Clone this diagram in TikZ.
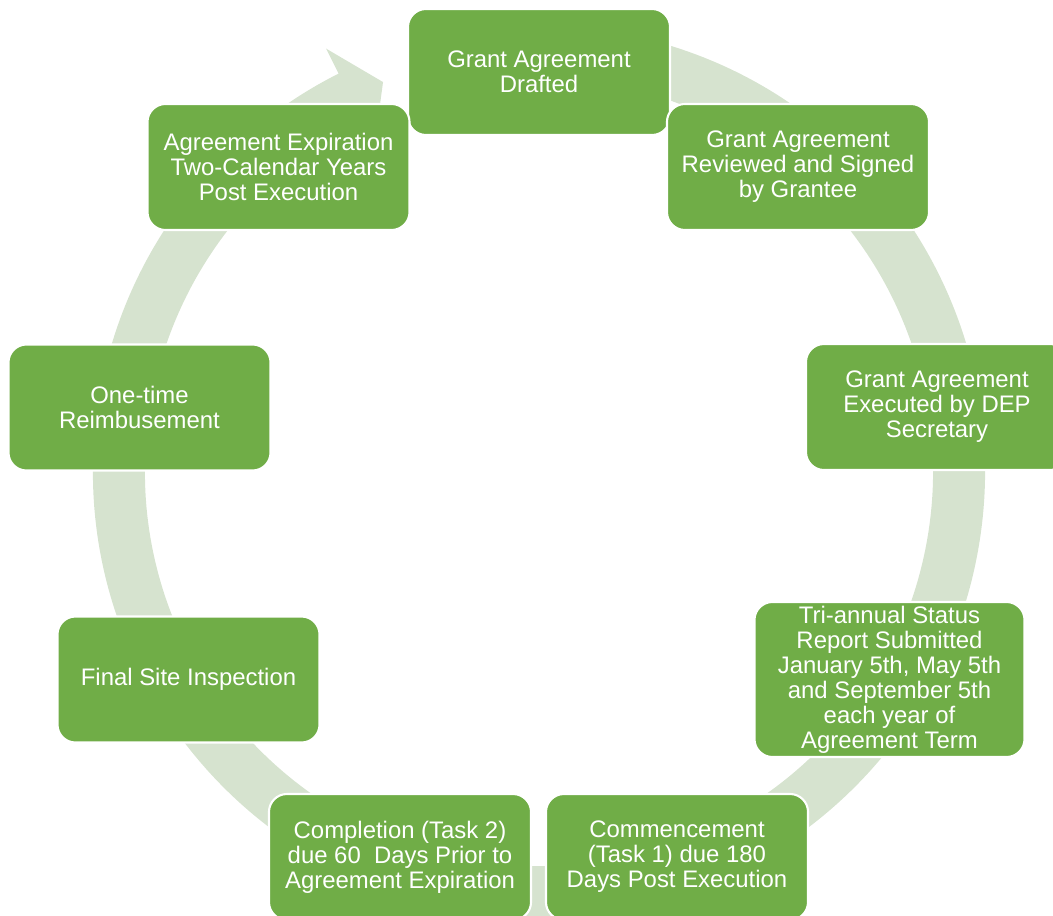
\documentclass[tikz,border=0pt]{standalone}
\usepackage{fontspec}
\setmainfont{Liberation Sans}
\usepackage{tikz}
\usetikzlibrary{calc}

\definecolor{boxgreen}{RGB}{112,173,71}
\definecolor{ringgreen}{RGB}{214,227,207}

\tikzset{
  stage/.style={draw=white, line width=1.5pt, fill=boxgreen, rounded corners=0.45cm,
    minimum width=6.55cm, minimum height=3.15cm, align=center, text=white,
    font=\fontsize{17}{17.8}\selectfont, inner sep=2pt},
}

\begin{document}
\begin{tikzpicture}[x=0.025cm, y=0.025cm]
\useasboundingbox (0,0) rectangle (1053,-915);

% cycle arrow
\begin{scope}[shift={(539,-472)}]
\fill [ringgreen] (80:446) arc[start angle=80, end angle=-243.3, radius=446]
  -- (-243.3:474) -- (-248.2:420) -- (-243.3:366) -- (-243.3:394)
  arc[start angle=-243.3, end angle=80, radius=394] -- cycle;
\end{scope}

% stages
\node [stage] (drafted) at (539,-72) {Grant Agreement\\Drafted};
\node [stage] (signed) at (798,-167) {Grant Agreement\\Reviewed and Signed\\by Grantee};
\node [stage] (executed) at (937,-407) {Grant Agreement\\Executed by DEP\\Secretary};
\node [stage, minimum width=6.75cm, minimum height=3.875cm] (report) at (889.5,-679.5) {Tri-annual Status\\Report Submitted\\January 5th, May 5th\\and September 5th\\each year of\\Agreement Term};
\node [stage] (commence) at (677,-857) {Commencement\\(Task 1) due 180\\Days Post Execution};
\node [stage] (complete) at (400,-857) {Completion (Task 2)\\due 60~ Days Prior to\\Agreement Expiration};
\node [stage] (inspect) at (188.5,-679.5) {Final Site Inspection};
\node [stage] (reimburse) at (139.5,-407.5) {One-time\\Reimbusement};
\node [stage] (expire) at (278.5,-167) {Agreement Expiration\\Two-Calendar Years\\Post Execution};

\end{tikzpicture}
\end{document}
